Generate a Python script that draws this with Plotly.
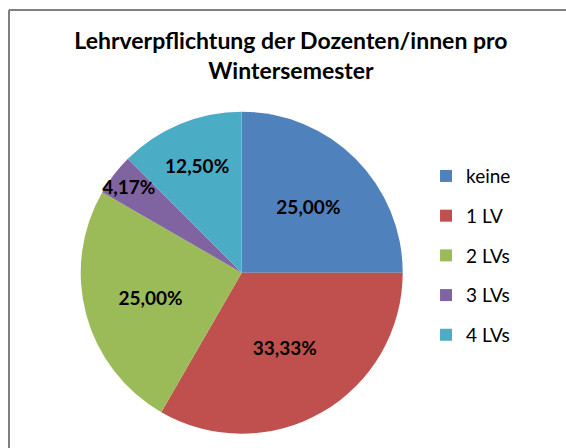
import plotly.graph_objects as go

# Anteile der Dozenten/innen nach Anzahl Lehrveranstaltungen
labels = ["keine", "1 LV", "2 LVs", "3 LVs", "4 LVs"]
values = [25.00, 33.33, 25.00, 4.17, 12.50]
colors = ["#4F81BD", "#C0504D", "#9BBB59", "#8064A2", "#4BACC6"]

title = "Lehrverpflichtung der Dozenten/innen pro<br>Wintersemester"
font = "Lato, 'Noto Sans', sans-serif"

W, H = 566, 448

fig = go.Figure()

fig.add_trace(
    go.Pie(
        labels=labels,
        values=values,
        marker=dict(colors=colors, line=dict(width=0)),
        sort=False,
        direction="clockwise",
        rotation=0,
        texttemplate="%{percent:.2%}",
        textposition="inside",
        insidetextorientation="horizontal",
        textfont=dict(family=font, size=19, color="black", weight="bold"),
        showlegend=False,
        domain=dict(x=[0.1426, 0.7115], y=[0.0319, 0.7507]),
        hoverinfo="label+percent",
    )
)

# legend entries (spaced like the Excel legend)
for lab, col in zip(labels, colors):
    fig.add_trace(
        go.Scatter(
            x=[None],
            y=[None],
            mode="markers",
            marker=dict(symbol="square", size=12, color=col),
            name=lab,
            legendgroup=lab,
        )
    )

fig.update_layout(
    width=W,
    height=H,
    margin=dict(l=0, r=0, t=0, b=0),
    paper_bgcolor="white",
    plot_bgcolor="white",
    separators=",.",
    uniformtext=dict(minsize=19, mode="show"),
    title=dict(
        text=title,
        x=0.514,
        xanchor="center",
        y=0.8897,
        yanchor="middle",
        font=dict(family=font, size=23, color="black", weight="bold"),
    ),
    xaxis=dict(visible=False),
    yaxis=dict(visible=False),
    legend=dict(
        x=0.7527,
        xanchor="left",
        y=0.6493,
        yanchor="top",
        tracegroupgap=12,
        font=dict(family=font, size=19, color="black"),
        itemwidth=30,
    ),
    shapes=[
        dict(type="line", xref="paper", yref="paper", x0=9 / W, x1=1.05,
             y0=1 - 10 / H, y1=1 - 10 / H, line=dict(color="#808080", width=2)),
        dict(type="line", xref="paper", yref="paper", x0=9 / W, x1=9 / W,
             y0=-0.05, y1=1 - 10 / H, line=dict(color="#808080", width=2)),
    ],
)

fig.write_html(
    "out.html",
    config={"displayModeBar": False},
    post_script="document.body.style.margin = '0'; document.documentElement.style.overflow = 'hidden';",
)
